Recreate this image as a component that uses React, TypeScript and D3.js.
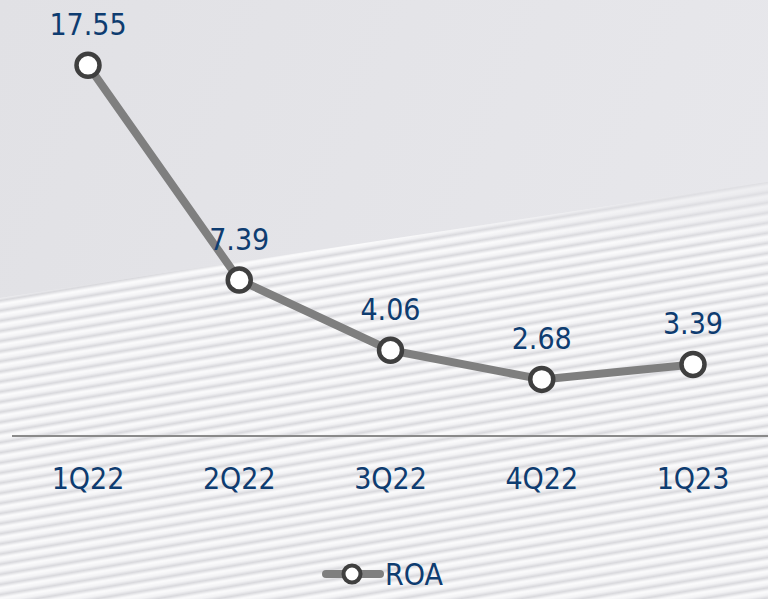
import React from "react";
import * as d3 from "d3";

const categories = ["1Q22", "2Q22", "3Q22", "4Q22", "1Q23"];
const roaValues = [17.55, 7.39, 4.06, 2.68, 3.39];
const seriesName = "ROA";

const W = 768;
const H = 599;
const FONT = "'DejaVu Sans Condensed', 'DejaVu Sans', Tahoma, sans-serif";
const LABEL_COLOR = "#0e3c70";

export default function App() {
  const x = d3.scalePoint<string>().domain(categories).range([88, 693]).padding(0);
  const y = d3.scaleLinear().domain([0, 20]).range([436, 13.6]);
  const pts = categories.map((c, i) => [x(c) as number, y(roaValues[i])] as [number, number]);
  const line = d3.line<[number, number]>().x((d) => d[0]).y((d) => d[1]);

  return (
    <svg
      width={W}
      height={H}
      style={{ position: "absolute", left: 0, top: 0, display: "block" }}
      xmlns="http://www.w3.org/2000/svg"
    >
      <defs>
        <linearGradient id="bgGrad" x1="0" y1="0" x2="1" y2="0.3">
          <stop offset="0" stopColor="#e1e1e5" />
          <stop offset="1" stopColor="#e7e7eb" />
        </linearGradient>
        <linearGradient id="stripeGrad" x1="0" y1="0" x2="0" y2="1">
          <stop offset="0" stopColor="#fcfcfd" />
          <stop offset="0.35" stopColor="#f2f2f4" />
          <stop offset="0.65" stopColor="#d9d9dd" />
          <stop offset="1" stopColor="#fcfcfd" />
        </linearGradient>
        <pattern
          id="stripes"
          patternUnits="userSpaceOnUse"
          width={40}
          height={10}
          patternTransform="rotate(-9.5)"
        >
          <rect width={40} height={10} fill="url(#stripeGrad)" />
        </pattern>
        <linearGradient id="fadeGrad" x1="0" y1="0" x2="0" y2="1">
          <stop offset="0" stopColor="#e4e4e8" stopOpacity="0.9" />
          <stop offset="0.15" stopColor="#e4e4e8" stopOpacity="0" />
        </linearGradient>
      </defs>

      <rect x={0} y={0} width={W} height={H} fill="url(#bgGrad)" />
      <polygon points={`0,298 768,182 768,${H} 0,${H}`} fill="url(#stripes)" />
      <polygon points={`0,298 768,182 768,${H} 0,${H}`} fill="url(#fadeGrad)" opacity={0.7} />

      {/* axis baseline */}
      <line x1={12} x2={W} y1={y(0)} y2={y(0)} stroke="#8a8a8a" strokeWidth={2} />

      {/* category labels */}
      {categories.map((c) => (
        <text
          key={c}
          x={x(c)}
          y={489}
          textAnchor="middle"
          fontFamily={FONT}
          fontSize={30}
          fill={LABEL_COLOR}
        >
          {c}
        </text>
      ))}

      {/* line */}
      <path d={line(pts) || ""} fill="none" stroke="#7f7f7f" strokeWidth={8} strokeLinejoin="round" />

      {/* markers */}
      {pts.map((p, i) => (
        <circle key={i} cx={p[0]} cy={p[1]} r={11.5} fill="#ffffff" stroke="#3f3f3f" strokeWidth={4.5} />
      ))}

      {/* value labels */}
      {pts.map((p, i) => (
        <text
          key={"v" + i}
          x={p[0]}
          y={p[1] - 30}
          textAnchor="middle"
          fontFamily={FONT}
          fontSize={30}
          fill={LABEL_COLOR}
        >
          {roaValues[i].toFixed(2)}
        </text>
      ))}

      {/* legend */}
      <g>
        <line x1={326} x2={380} y1={574} y2={574} stroke="#7f7f7f" strokeWidth={8} strokeLinecap="round" />
        <circle cx={352} cy={574} r={8.5} fill="#ffffff" stroke="#3f3f3f" strokeWidth={4} />
        <text x={385} y={585} fontFamily={FONT} fontSize={30} fill={LABEL_COLOR}>
          {seriesName}
        </text>
      </g>
    </svg>
  );
}
